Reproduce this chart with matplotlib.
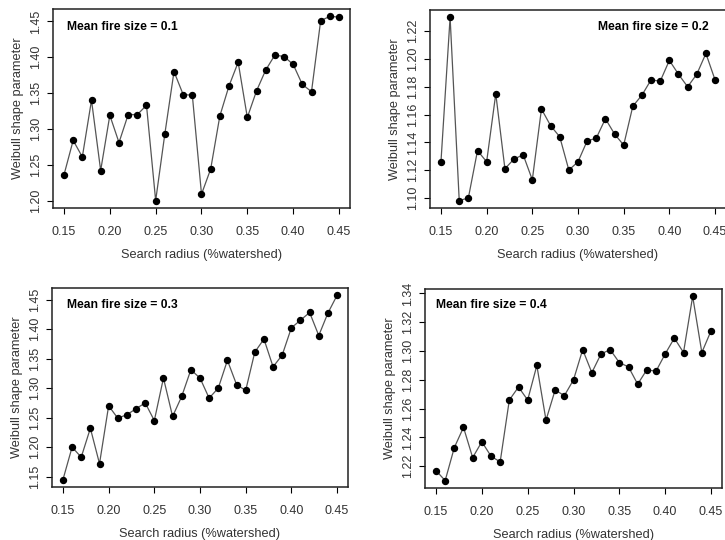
import matplotlib

matplotlib.use("Agg")
import matplotlib.pyplot as plt
from matplotlib.ticker import FixedLocator, FormatStrFormatter

plt.rcParams["font.family"] = ["Liberation Sans", "DejaVu Sans"]

SEARCH_RADIUS = [
    0.15, 0.16, 0.17, 0.18, 0.19, 0.20, 0.21, 0.22, 0.23, 0.24, 0.25,
    0.26, 0.27, 0.28, 0.29, 0.30, 0.31, 0.32, 0.33, 0.34, 0.35, 0.36,
    0.37, 0.38, 0.39, 0.40, 0.41, 0.42, 0.43, 0.44, 0.45,
]

SHAPE_FIRE_01 = [
    1.236, 1.284, 1.261, 1.340, 1.242, 1.319, 1.281, 1.320, 1.320, 1.333, 1.200,
    1.293, 1.380, 1.348, 1.347, 1.209, 1.244, 1.318, 1.360, 1.393, 1.316, 1.353,
    1.382, 1.403, 1.401, 1.390, 1.362, 1.352, 1.451, 1.457, 1.456,
]
SHAPE_FIRE_02 = [
    1.126, 1.230, 1.098, 1.100, 1.134, 1.126, 1.175, 1.121, 1.128, 1.131, 1.113,
    1.164, 1.152, 1.144, 1.120, 1.126, 1.141, 1.143, 1.157, 1.146, 1.138, 1.166,
    1.174, 1.185, 1.184, 1.199, 1.189, 1.180, 1.189, 1.204, 1.185,
]
SHAPE_FIRE_03 = [
    1.145, 1.200, 1.183, 1.232, 1.172, 1.270, 1.249, 1.255, 1.265, 1.275, 1.245,
    1.317, 1.252, 1.286, 1.331, 1.317, 1.283, 1.300, 1.347, 1.306, 1.296, 1.361,
    1.383, 1.336, 1.356, 1.402, 1.415, 1.428, 1.389, 1.427, 1.457,
]
SHAPE_FIRE_04 = [
    1.217, 1.210, 1.233, 1.247, 1.226, 1.237, 1.227, 1.223, 1.266, 1.275, 1.266,
    1.290, 1.252, 1.273, 1.269, 1.280, 1.301, 1.285, 1.298, 1.301, 1.292, 1.289,
    1.277, 1.287, 1.286, 1.298, 1.309, 1.299, 1.338, 1.299, 1.314,
]

PANEL_TITLES = [
    "Mean fire size = 0.1",
    "Mean fire size = 0.2",
    "Mean fire size = 0.3",
    "Mean fire size = 0.4",
]
X_TICKS = [0.15, 0.20, 0.25, 0.30, 0.35, 0.40, 0.45]
Y_TICKS = [
    [1.20, 1.25, 1.30, 1.35, 1.40, 1.45],
    [1.10, 1.12, 1.14, 1.16, 1.18, 1.20, 1.22],
    [1.15, 1.20, 1.25, 1.30, 1.35, 1.40, 1.45],
    [1.22, 1.24, 1.26, 1.28, 1.30, 1.32, 1.34],
]

FIG_W, FIG_H = 725, 540
# pixel boxes (left, top, right, bottom)
PANEL_BOXES = [
    (53, 9, 350, 208),
    (430, 10, 726, 208),
    (52, 288, 348, 487),
    (425, 289, 722, 488),
]
TITLE_POS = [(0.047, 0.91, "left"), (0.943, 0.914, "right"), (0.05, 0.915, "left"), (0.037, 0.92, "left")]

TEXT_COLOR = "#333333"


def draw_panel(fig, box, values, title, title_pos, y_ticks):
    left, top, right, bottom = box
    ax = fig.add_axes(
        [left / FIG_W, 1 - bottom / FIG_H, (right - left) / FIG_W, (bottom - top) / FIG_H]
    )
    ax.plot(SEARCH_RADIUS, values, color="#555555", linewidth=0.9, zorder=2)
    ax.plot(SEARCH_RADIUS, values, "o", color="black", markersize=4.3, zorder=3)
    ax.margins(x=0.04, y=0.04)

    ax.xaxis.set_major_locator(FixedLocator(X_TICKS))
    ax.yaxis.set_major_locator(FixedLocator(y_ticks))
    ax.xaxis.set_major_formatter(FormatStrFormatter("%.2f"))
    ax.yaxis.set_major_formatter(FormatStrFormatter("%.2f"))
    ax.tick_params(direction="out", length=4, width=0.8, labelsize=9, labelcolor=TEXT_COLOR, pad=9)
    ax.tick_params(axis="y", labelrotation=90, pad=4)
    for lbl in ax.get_yticklabels():
        lbl.set_va("center")

    for spine in ax.spines.values():
        spine.set_linewidth(1.1)
        spine.set_color("#222222")

    ax.set_xlabel("Search radius (%watershed)", fontsize=9.2, color=TEXT_COLOR, labelpad=8)
    ax.set_ylabel("Weibull shape parameter", fontsize=9.2, color=TEXT_COLOR, labelpad=4)

    tx, ty, ha = title_pos
    ax.text(tx, ty, title, transform=ax.transAxes, ha=ha, va="center",
            fontsize=8.7, fontweight="bold", color="black")
    return ax


def main() -> None:
    fig = plt.figure(figsize=(FIG_W / 100, FIG_H / 100), dpi=100)
    series = [SHAPE_FIRE_01, SHAPE_FIRE_02, SHAPE_FIRE_03, SHAPE_FIRE_04]
    for box, values, title, pos, ticks in zip(PANEL_BOXES, series, PANEL_TITLES, TITLE_POS, Y_TICKS):
        draw_panel(fig, box, values, title, pos, ticks)
    fig.savefig("out.png", dpi=100)


if __name__ == "__main__":
    main()
